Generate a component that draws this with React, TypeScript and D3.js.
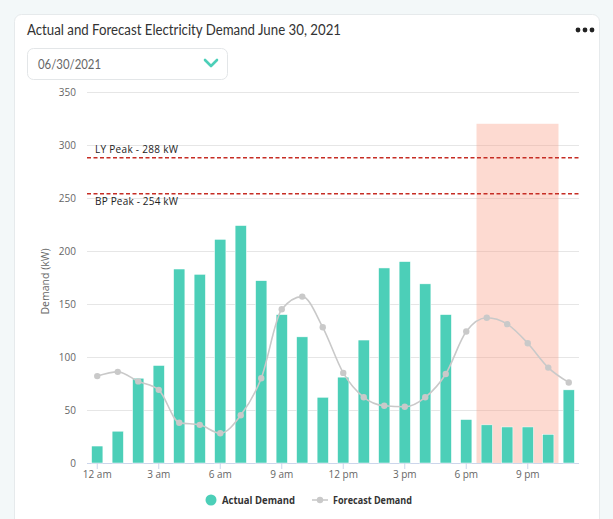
import * as d3 from 'd3'

const hours = d3.range(24)
const xTickLabels = ['12 am', '3 am', '6 am', '9 am', '12 pm', '3 pm', '6 pm', '9 pm']
const actualDemand = [16, 30, 80, 92, 183, 178, 211, 224, 172, 140, 119, 62, 81, 116, 184, 190, 169, 140, 41, 36, 34, 34, 27, 69]
const forecastDemand = [82, 86, 77, 69, 38, 36, 28, 45, 80, 145, 157, 128, 85, 62, 54, 53, 62, 84, 124, 137, 131, 113, 90, 76]
const yTicks = [0, 50, 100, 150, 200, 250, 300, 350]
const peaks = [
  { label: 'LY Peak - 288 kW', value: 288, above: true },
  { label: 'BP Peak - 254 kW', value: 254, above: false },
]
// hours covered by the shaded band, and its top value
const shadeHours = [19, 22]
const shadeTop = 320

const W = 613
const H = 519
const plotLeft = 87
const plotRight = 579
const plotTop = 92
const plotBottom = 463

const TEAL = '#4ccfb8'
const GREY = '#c9c9c9'
const chartFont = '"Open Sans", "DejaVu Sans", sans-serif'

export default function App() {
  const x = d3.scaleBand<number>().domain(hours).range([plotLeft, plotRight]).paddingInner(0.45).paddingOuter(0.225)
  const y = d3.scaleLinear().domain([0, 350]).range([plotBottom, plotTop])
  const cx = (h: number) => (x(h) ?? 0) + x.bandwidth() / 2
  const step = x.step()
  const slot = (h: number) => plotLeft + h * step

  const line = d3
    .line<number>()
    .x((d, i) => cx(i))
    .y((d) => y(d))
    .curve(d3.curveMonotoneX)

  return (
    <div style={{ position: 'fixed', left: 0, top: 0 }}>
      <svg width={W} height={H} style={{ display: 'block' }}>
        <rect x={0} y={0} width={W} height={H} fill="#f3f8f9" />
        <rect x={14.5} y={14.5} width={585} height={540} rx={7} fill="#ffffff" stroke="#e6eaec" />

        <text x={27} y={35} fontFamily="Lato, sans-serif" fontSize={14.5} fill="#333" textLength={314} lengthAdjust="spacingAndGlyphs">
          Actual and Forecast Electricity Demand June 30, 2021
        </text>
        {[578, 585, 592].map((dx) => (
          <circle key={dx} cx={dx} cy={30} r={2.4} fill="#222" />
        ))}

        {/* date selector */}
        <rect x={27.5} y={48.5} width={200} height={31} rx={6} fill="#fff" stroke="#e3e6e8" />
        <text x={38} y={69} fontFamily="Lato, sans-serif" fontSize={13.5} fill="#666" textLength={63} lengthAdjust="spacingAndGlyphs">
          06/30/2021
        </text>
        <path d="M205,60 L211,66 L217,60" fill="none" stroke={TEAL} strokeWidth={2.6} strokeLinecap="round" strokeLinejoin="round" />

        {/* grid */}
        {yTicks.map((t) => (
          <g key={t}>
            {t > 0 && <line x1={plotLeft} x2={plotRight} y1={y(t) + 0.5} y2={y(t) + 0.5} stroke="#e6e6e6" />}
            <text x={76} y={y(t) + 4} textAnchor="end" fontFamily={chartFont} fontSize={10} fill="#666">
              {t}
            </text>
          </g>
        ))}

        {/* shaded window */}
        <rect
          x={slot(shadeHours[0])}
          y={y(shadeTop)}
          width={slot(shadeHours[1] + 1) - slot(shadeHours[0])}
          height={y(0) - y(shadeTop)}
          fill="#f8957a"
          opacity={0.35}
        />

        <line x1={plotLeft} x2={plotRight} y1={plotBottom + 0.5} y2={plotBottom + 0.5} stroke="#ccd6eb" />

        <text
          transform={`translate(49,${(plotTop + plotBottom) / 2 + 4}) rotate(-90)`}
          textAnchor="middle"
          fontFamily={chartFont}
          fontSize={10.5}
          fill="#666"
        >
          Demand (kW)
        </text>

        {/* peak lines */}
        {peaks.map((p) => (
          <g key={p.label}>
            <line x1={plotLeft} x2={plotRight} y1={y(p.value)} y2={y(p.value)} stroke="#c62d24" strokeWidth={1.5} strokeDasharray="4,2.5" />
            <text
              x={95}
              y={p.above ? y(p.value) - 5 : y(p.value) + 11}
              fontFamily={chartFont}
              fontSize={10}
              fill="#222"
              textLength={83}
              lengthAdjust="spacing"
            >
              {p.label}
            </text>
          </g>
        ))}

        {/* bars */}
        {actualDemand.map((v, i) => (
          <rect key={i} x={x(i)} y={y(v)} width={x.bandwidth()} height={y(0) - y(v)} fill={TEAL} stroke="#fff" strokeWidth={0.5} />
        ))}

        {/* forecast */}
        <path d={line(forecastDemand) ?? ''} fill="none" stroke={GREY} strokeWidth={1.6} />
        {forecastDemand.map((v, i) => (
          <circle key={i} cx={cx(i)} cy={y(v)} r={3.2} fill={GREY} />
        ))}

        {/* x ticks */}
        {xTickLabels.map((lab, k) => {
          const h = k * 3
          return (
            <g key={lab}>
              <line x1={cx(h)} x2={cx(h)} y1={plotBottom} y2={plotBottom + 6} stroke="#ccd6eb" />
              <text x={cx(h)} y={478} textAnchor="middle" fontFamily={chartFont} fontSize={10} fill="#666">
                {lab}
              </text>
            </g>
          )
        })}

        {/* legend */}
        <circle cx={211} cy={500} r={5.5} fill={TEAL} />
        <text x={222} y={504} fontFamily={chartFont} fontSize={10.5} fontWeight="bold" fill="#333" textLength={73} lengthAdjust="spacingAndGlyphs">
          Actual Demand
        </text>
        <line x1={312} x2={328} y1={500} y2={500} stroke={GREY} strokeWidth={1.6} />
        <circle cx={320} cy={500} r={3.2} fill={GREY} />
        <text x={333} y={504} fontFamily={chartFont} fontSize={10.5} fontWeight="bold" fill="#333" textLength={79} lengthAdjust="spacingAndGlyphs">
          Forecast Demand
        </text>
      </svg>
    </div>
  )
}
